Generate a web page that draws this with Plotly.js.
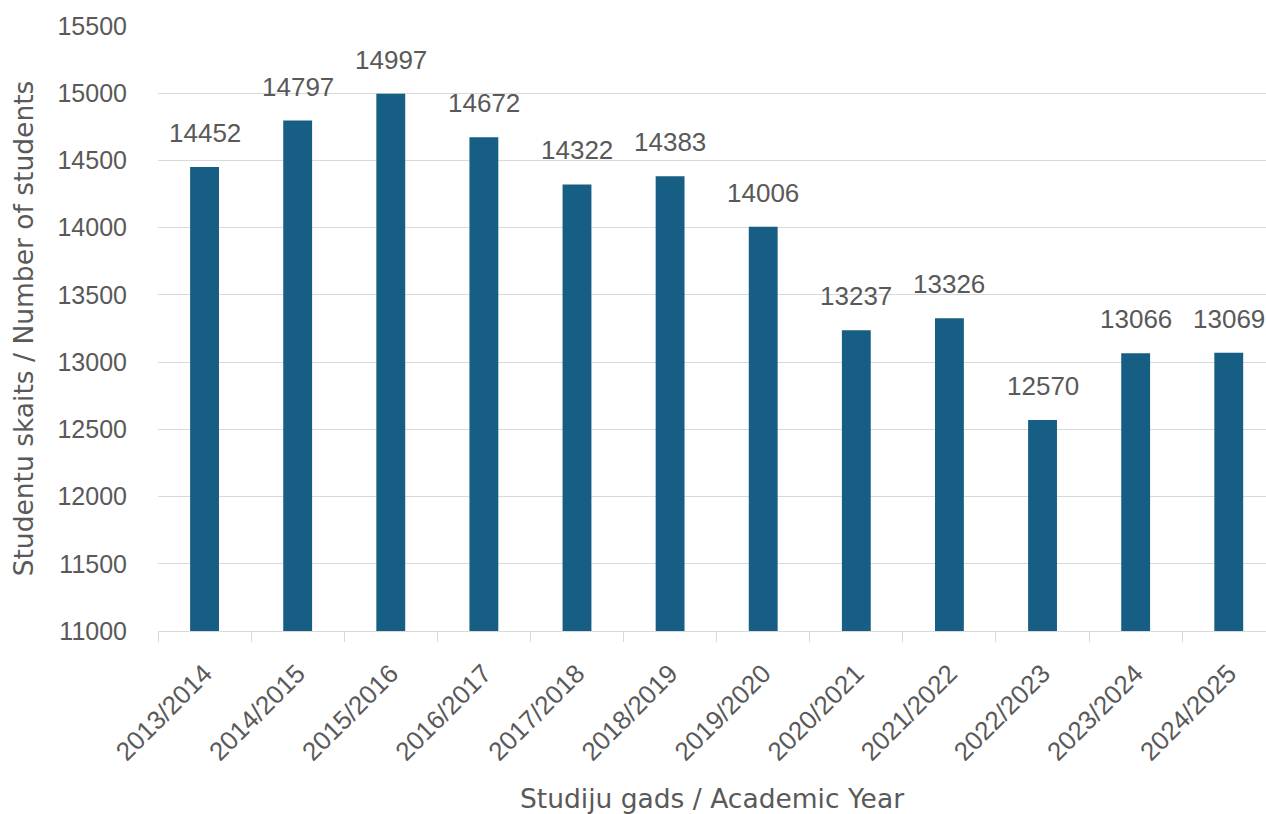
<!DOCTYPE html>
<html>
<head>
<meta charset="utf-8">
<script src="https://cdn.plot.ly/plotly-3.0.1.min.js"></script>
<style>html,body{margin:0;padding:0;background:#fff;}#chart{width:1266px;height:814px;}</style>
</head>
<body>
<div id="chart"></div>
<script>
const years = ["2013/2014","2014/2015","2015/2016","2016/2017","2017/2018","2018/2019","2019/2020","2020/2021","2021/2022","2022/2023","2023/2024","2024/2025"];
const students = [14452,14797,14997,14672,14322,14383,14006,13237,13326,12570,13066,13069];
const yTicks = [11000,11500,12000,12500,13000,13500,14000,14500,15000,15500];

const textColor = "#595959";
const barColor = "#165E83";
const gridColor = "#d9d9d9";
const numFont = "Liberation Sans, Arial, sans-serif";
const titleFont = "DejaVu Sans, Open Sans, sans-serif";

const trace = {
  type: "bar",
  x: years,
  y: students,
  marker: {color: barColor, line: {width: 0}},
  width: 0.31,
  hoverinfo: "x+y"
};

const annotations = years.map((c, i) => ({
  x: c, y: students[i], xref: "x", yref: "y",
  text: String(students[i]),
  showarrow: false, yanchor: "bottom", yshift: 17,
  font: {family: numFont, size: 26, color: textColor}
}));

const layout = {
  width: 1266, height: 814,
  margin: {l: 158, r: 0, t: 26, b: 183, pad: 0},
  paper_bgcolor: "#fff", plot_bgcolor: "#fff",
  showlegend: false,
  xaxis: {
    type: "category",
    range: [-0.5, 11.4],
    tickangle: -45,
    tickson: "boundaries",
    ticks: "outside", ticklen: 10, tickcolor: gridColor, tickwidth: 1,
    showline: true, linecolor: gridColor, linewidth: 1,
    showgrid: false,
    tickfont: {family: numFont, size: 26, color: textColor},
    ticklabelstandoff: 16,
    automargin: false,
    title: {text: "Studiju gads / Academic Year", font: {family: titleFont, size: 26.5, color: textColor}, standoff: 24}
  },
  yaxis: {
    range: [11000, 15500],
    tickvals: yTicks,
    ticktext: yTicks.map(String),
    showgrid: true, gridcolor: gridColor, gridwidth: 1,
    zeroline: false, showline: false, ticks: "",
    tickfont: {family: numFont, size: 25, color: textColor},
    ticklabelstandoff: 30,
    automargin: false,
    title: {text: "Studentu skaits / Number of students", font: {family: titleFont, size: 26.5, color: textColor}, standoff: 16}
  },
  annotations: annotations
};

Plotly.newPlot("chart", [trace], layout, {displayModeBar: false, staticPlot: true});
</script>
</body>
</html>
